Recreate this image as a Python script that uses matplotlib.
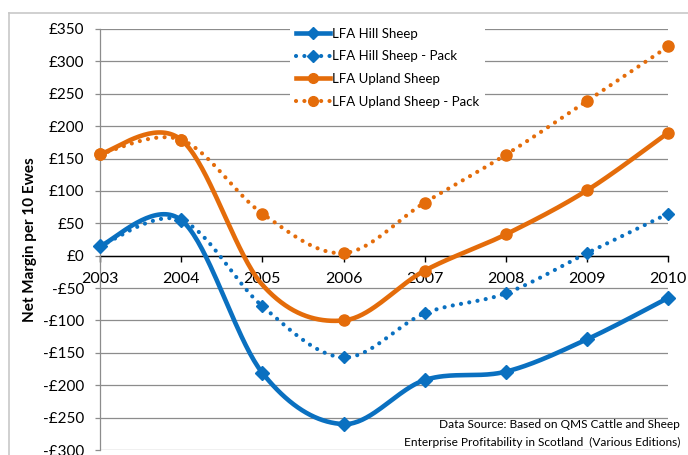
import numpy as np
import matplotlib
matplotlib.use("Agg")
import matplotlib.pyplot as plt
from matplotlib.lines import Line2D

plt.rcParams['font.family'] = ['Lato', 'DejaVu Sans']

years = [2003, 2004, 2005, 2006, 2007, 2008, 2009, 2010]
hill = [15, 55, -181, -260, -192, -179, -129, -65]
hill_pack = [15, 55, -78, -157, -89, -58, 4, 65]
upland = [157, 179, -45, -100, -23, 33, 101, 190]
upland_pack = [157, 179, 65, 4, 82, 156, 239, 323]
series_names = ["LFA Hill Sheep", "LFA Hill Sheep - Pack",
                "LFA Upland Sheep", "LFA Upland Sheep - Pack"]
yticks = list(range(-300, 351, 50))

BLUE = "#0A70C0"
ORANGE = "#E46C0A"


def smooth(xs, ys, n=40):
    """Uniform Catmull-Rom curve through the points (like Excel smoothing)."""
    P = np.column_stack([xs, ys]).astype(float)
    P = np.vstack([P[0], P, P[-1]])
    out = []
    for i in range(1, len(P) - 2):
        p0, p1, p2, p3 = P[i - 1], P[i], P[i + 1], P[i + 2]
        m1 = (p2 - p0) / 2.0
        m2 = (p3 - p1) / 2.0
        t = np.linspace(0, 1, n)[:, None]
        h00 = 2 * t**3 - 3 * t**2 + 1
        h10 = t**3 - 2 * t**2 + t
        h01 = -2 * t**3 + 3 * t**2
        h11 = t**3 - t**2
        seg = h00 * p1 + h10 * m1 + h01 * p2 + h11 * m2
        out.append(seg if i == 1 else seg[1:])
    c = np.vstack(out)
    return c[:, 0], c[:, 1]


W, H = 688, 455
fig = plt.figure(figsize=(W / 100, H / 100), dpi=100)
ax = fig.add_axes([100 / W, 5 / H, (668.3 - 100) / W, (450 - 29) / H])

# outer chart frame
fig.add_artist(Line2D([9 / W, 1], [1 - 13 / H, 1 - 13 / H], transform=fig.transFigure,
                      color="#C8C8C8", lw=1.2))
fig.add_artist(Line2D([9 / W, 9 / W], [0, 1 - 13 / H], transform=fig.transFigure,
                      color="#C8C8C8", lw=1.2))

ax.set_xlim(2003, 2010)
ax.set_ylim(-300, 350)
ax.set_yticks(yticks)
ax.set_yticklabels([("-£%d" % -v) if v < 0 else "£%d" % v for v in yticks])
ax.set_xticks(years)
ax.set_xticklabels([str(y) for y in years])
ax.grid(axis='y', color="#8C8C8C", lw=0.9)
ax.set_axisbelow(True)
for s in ['top', 'right']:
    ax.spines[s].set_visible(False)
ax.spines['left'].set_color("#8C8C8C")
ax.spines['left'].set_linewidth(0.9)
ax.spines['bottom'].set_position(('data', 0))
ax.spines['bottom'].set_color("black")
ax.spines['bottom'].set_linewidth(1.0)
ax.spines['bottom'].set_zorder(1.5)
ax.tick_params(axis='y', length=3.6, color="#8C8C8C", width=0.9, pad=8, labelsize=11)
ax.tick_params(axis='x', length=4, color="black", width=1.0, pad=8, labelsize=11.5)

sw = 3.3
dw = 3.0
dots = (0, (0.01, 2.0))

x, y = smooth(years, hill)
ax.plot(x, y, color=BLUE, lw=sw, solid_capstyle='round', zorder=3)
ax.plot(years, hill, ls='none', marker='D', ms=7.5, color=BLUE, zorder=4, clip_on=False)

x, y = smooth(years, hill_pack)
ax.plot(x, y, color=BLUE, lw=dw, ls=dots, dash_capstyle='round', zorder=3)
ax.plot(years, hill_pack, ls='none', marker='D', ms=6.5, color=BLUE, zorder=4, clip_on=False)

x, y = smooth(years, upland)
ax.plot(x, y, color=ORANGE, lw=sw, solid_capstyle='round', zorder=3)
up_marks = [0, 1, 3, 4, 5, 6, 7]
ax.plot([years[i] for i in up_marks], [upland[i] for i in up_marks], ls='none',
        marker='o', ms=8, color=ORANGE, zorder=4, clip_on=False)

x, y = smooth(years, upland_pack)
ax.plot(x, y, color=ORANGE, lw=dw, ls=dots, dash_capstyle='round', zorder=3)
ax.plot(years, upland_pack, ls='none', marker='o', ms=8, color=ORANGE, zorder=4, clip_on=False)

handles = [
    Line2D([], [], color=BLUE, lw=sw, marker='D', ms=6),
    Line2D([], [], color=BLUE, lw=dw, ls=dots, dash_capstyle='round', marker='D', ms=6),
    Line2D([], [], color=ORANGE, lw=sw, marker='o', ms=7),
    Line2D([], [], color=ORANGE, lw=dw, ls=dots, dash_capstyle='round', marker='o', ms=7),
]
leg = fig.legend(handles, series_names, loc='upper left',
                 bbox_to_anchor=(290 / W, 1 - 22 / H), frameon=True, fontsize=9.5,
                 handlelength=2.6, handletextpad=0.15, labelspacing=0.8,
                 borderpad=0.45, borderaxespad=0)
leg.get_frame().set_facecolor('white')
leg.get_frame().set_edgecolor('none')
leg.get_frame().set_alpha(1)

fig.text(30 / W, 1 - 240 / H, "Net Margin per 10 Ewes", rotation=90, ha='center',
         va='center', fontsize=11, fontweight='bold')

fig.text(680 / W, 1 - 425 / H, "Data Source: Based on QMS Cattle and Sheep",
         ha='right', va='center', fontsize=8.6)
fig.text(680 / W, 1 - 442 / H, "Enterprise Profitability in Scotland  (Various Editions)",
         ha='right', va='center', fontsize=8.6)

fig.savefig("out.png", dpi=100)
